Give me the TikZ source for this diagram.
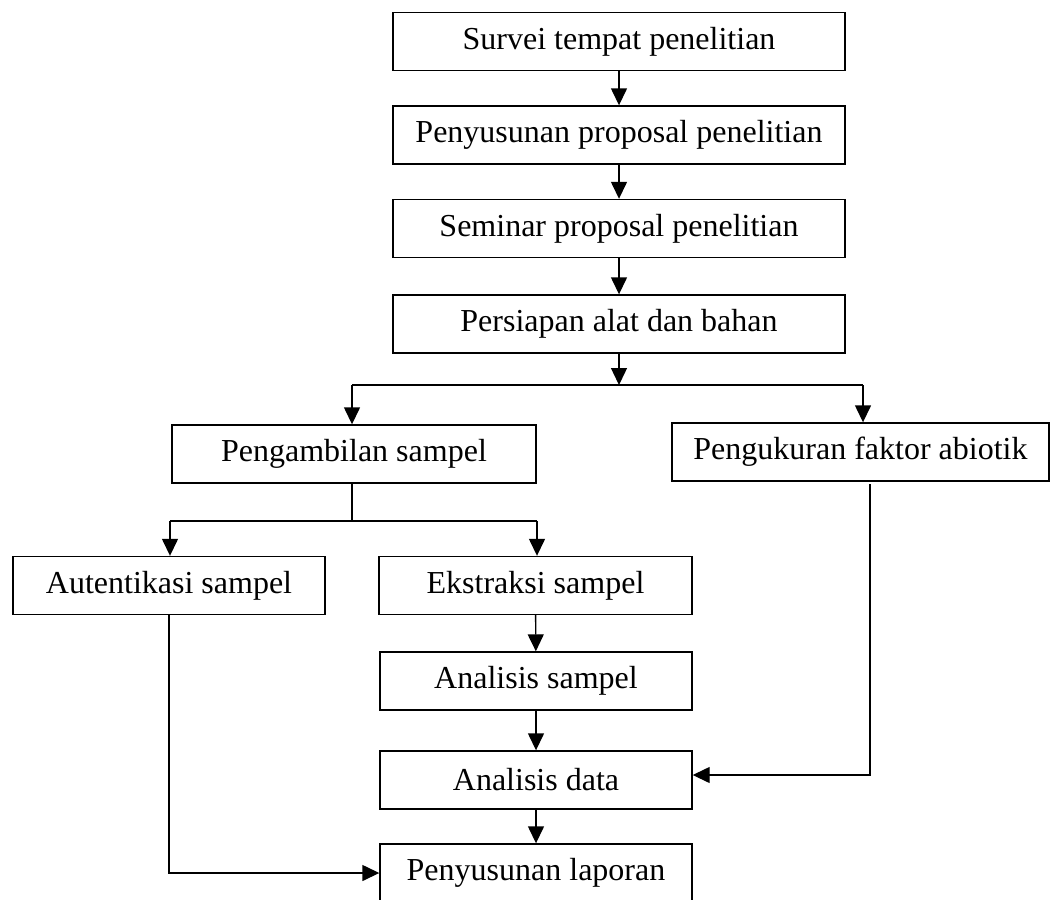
\documentclass[tikz,border=0pt]{standalone}
\usepackage{fontspec}
\setmainfont{Liberation Serif}
\usetikzlibrary{arrows.meta}
\begin{document}
\begin{tikzpicture}[x=1pt,y=-1pt,
  box/.style={draw, line width=1.4pt, inner sep=0pt, minimum height=58pt, font=\fontsize{32}{38}\selectfont},
  arr/.style={-{Triangle[width=16pt,length=17pt]}, line width=1.4pt},
  ln/.style={line width=1.4pt}]
\useasboundingbox (0,0) rectangle (1051,899);
\node[box, minimum width=452pt] (b1) at (619,41.5) {Survei tempat penelitian};
\node[box, minimum width=452pt] (b2) at (619,135) {Penyusunan proposal penelitian};
\node[box, minimum width=452pt] (b3) at (619,228.5) {Seminar proposal penelitian};
\node[box, minimum width=452pt] (b4) at (619,324) {Persiapan alat dan bahan};
\node[box, minimum width=364pt] (b5) at (354,454) {Pengambilan sampel};
\node[box, minimum width=377pt] (b6) at (860.5,452) {Pengukuran faktor abiotik};
\node[box, minimum width=312pt] (b7) at (169,585.5) {Autentikasi sampel};
\node[box, minimum width=313pt] (b8) at (535.5,585.5) {Ekstraksi sampel};
\node[box, minimum width=312pt] (b9) at (536,681) {Analisis sampel};
\node[box, minimum width=312pt] (b10) at (536,780) {Analisis data};
\node[box, minimum width=312pt] (b11) at (536,873) {Penyusunan laporan};
\draw[arr] (b1) -- (b2);
\draw[arr] (b2) -- (b3);
\draw[arr] (b3) -- (b4);
\coordinate (j1) at (619,385);
\coordinate (jl) at (352,385);
\coordinate (jr) at (863,385);
\draw[arr] (b4.south) -- (j1);
\draw[ln] (jl) -- (jr);
\draw[arr] (jl) -- (jl |- b5.north);
\draw[arr] (jr) -- (jr |- b6.north);
\coordinate (j2) at (352,521);
\coordinate (jl2) at (170,521);
\coordinate (jr2) at (537,521);
\draw[ln] (j2 |- b5.south) -- (j2);
\draw[ln] (jl2) -- (jr2);
\draw[arr] (jl2) -- (jl2 |- b7.north);
\draw[arr] (jr2) -- (jr2 |- b8.north);
\draw[arr] (b8) -- (b9);
\draw[arr] (b9) -- (b10);
\draw[arr] (b10) -- (b11);
\draw[arr] (b7.south) |- (b11.west);
\coordinate (c6) at (870,484);
\draw[arr] (c6) |- ([yshift=5pt]b10.east);
\end{tikzpicture}
\end{document}
